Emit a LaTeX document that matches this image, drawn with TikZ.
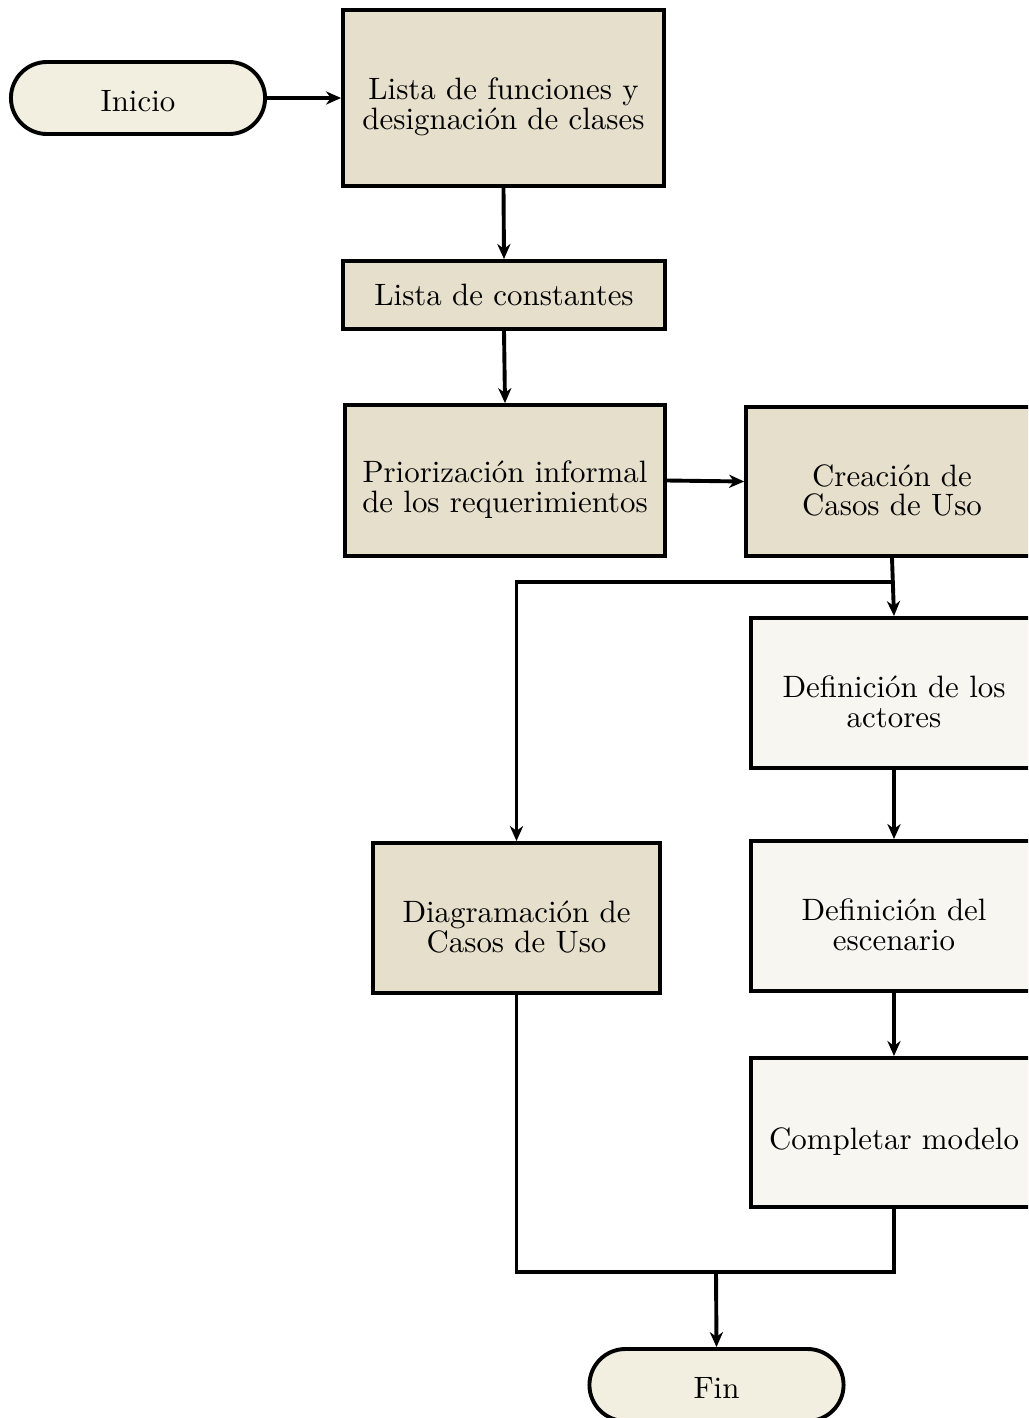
\documentclass[tikz,border=0pt]{standalone}
\usetikzlibrary{shapes.misc,arrows.meta}
\definecolor{procfill}{HTML}{E6DFCC}
\definecolor{subfill}{HTML}{F7F6F1}
\definecolor{termfill}{HTML}{F2EFE0}
% tall invisible strut: sets the text of a box a little below its centre
\newcommand\tallstrut{\rule{0pt}{13.2pt}}
\begin{document}
\begin{tikzpicture}[x=0.3333pt,y=-0.3333pt,
  every node/.style={font=\fontsize{10.3}{9.9}\selectfont, align=center, inner sep=0pt},
  proc/.style={draw, line width=1.3pt, fill=procfill, rectangle},
  subproc/.style={draw, line width=1.3pt, fill=subfill, rectangle},
  term/.style={draw, line width=1.3pt, fill=termfill, rounded rectangle,
    minimum width=84.7pt, minimum height=24pt,
    execute at begin node={\rule{0pt}{8.8pt}}},
  flow/.style={line width=1.3pt, -{Stealth[length=5pt,width=4.4pt,inset=1.6pt]}},
  link/.style={line width=1.3pt}]
  \useasboundingbox (0,0) rectangle (1028,1418);
  \clip (0,0) rectangle (1028,1418);

  % start / end
  \node[term] (inicio) at (138,98) {Inicio};
  \node[term] (fin) at (716.5,1385) {Fin};

  % main sequence
  \node[proc, minimum width=107pt, minimum height=58.7pt] (funciones) at (503.5,98)
    {\tallstrut Lista de funciones y\\designación de clases};
  \node[proc, minimum width=107.3pt, minimum height=22.7pt] (constantes) at (504,295)
    {Lista de constantes};
  \node[proc, minimum width=106.7pt, minimum height=50.3pt] (priorizacion) at (505,480.5)
    {\tallstrut Priorización informal\\de los requerimientos};
  \node[proc, minimum width=97.3pt, minimum height=49.7pt] (casos) at (892,481.5)
    {\tallstrut Creación de\\Casos de Uso};

  % use case detail steps
  \node[subproc, minimum width=95.3pt, minimum height=50pt] (actores) at (894,693)
    {\tallstrut Definición de los\\actores};
  \node[subproc, minimum width=95.3pt, minimum height=50pt] (escenario) at (894,916)
    {\tallstrut Definición del\\escenario};
  \node[subproc, minimum width=95.3pt, minimum height=49.7pt] (modelo) at (894,1132.5)
    {\tallstrut Completar modelo};

  % use case diagram
  \node[proc, minimum width=95.7pt, minimum height=50pt] (diagrama) at (516.5,918)
    {\tallstrut Diagramación de\\Casos de Uso};

  % branch and merge points
  \coordinate (split) at (892,582);
  \coordinate (merge) at (716,1272);

  % connectors
  \draw[flow] (inicio.east) -- (funciones.west);
  \draw[flow] (funciones.south) -- (constantes.north);
  \draw[flow] (constantes.south) -- (priorizacion.north);
  \draw[flow] (priorizacion.east) -- (casos.west);
  \draw[flow] (casos.south) -- (actores.north);
  \draw[flow] (split) -| (diagrama.north);
  \draw[flow] (actores.south) -- (escenario.north);
  \draw[flow] (escenario.south) -- (modelo.north);
  \draw[link, line join=miter] (diagrama.south) |- (merge) -| (modelo.south);
  \draw[flow] (merge) -- (fin.north);
\end{tikzpicture}
\end{document}
